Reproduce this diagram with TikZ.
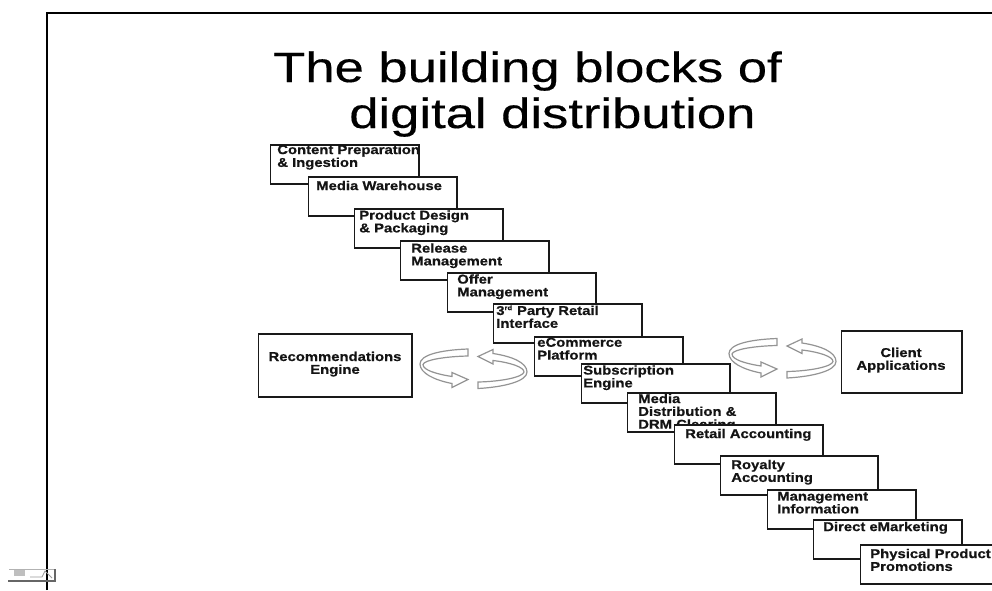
\documentclass[tikz,border=0pt]{standalone}
\usepackage{fontspec}
\setmainfont{Liberation Sans}
\newfontfamily\boxfont[FakeStretch=1.16,FakeBold=0.6]{Liberation Sans Bold}
\newfontfamily\titlefont[FakeStretch=1.24,FakeBold=0.3]{Liberation Sans}
\tikzset{
  blk/.style={draw=black!90,line width=1.35pt,fill=white,anchor=north west,inner sep=0pt,minimum width=111.4pt,minimum height=29.7pt,xshift=-0.3pt,yshift=0.2pt},
  txt/.style={anchor=north west,inner sep=0pt,align=left,text=black!92,yshift=1.1pt,font=\boxfont\fontsize{9.6}{9.6}\selectfont},
  ctxt/.style={txt,anchor=north,align=center,yshift=0.8pt},
  ttl/.style={anchor=base west,inner sep=0pt,text=black,font=\titlefont\fontsize{31.8}{34}\selectfont},
  cyc/.style={draw=black!42,line width=0.9pt,fill=white,line join=miter},
}
\newcommand{\cyclearrows}[2]{%
  \begin{scope}[shift={(#1,#2)}]
    \draw[cyc] (468,349) .. controls (440,350) and (420,355) .. (420,364)
      .. controls (420,373) and (434,380) .. (452,383.5) -- (452,387.5) -- (468,379.5) -- (452,372.5) -- (452,376.5)
      .. controls (436,374) and (423,370) .. (423,364.5)
      .. controls (424,360) and (445,356.5) .. (468,356) -- cycle;
    \draw[cyc] (478,388.5) .. controls (505,387) and (527,381) .. (527,372)
      .. controls (527,363) and (513,356.5) .. (493,353.5) -- (493,349.5) -- (478,356.5) -- (493,364) -- (493,360.5)
      .. controls (510,362.5) and (524,367) .. (524,372)
      .. controls (523,377) and (502,381.5) .. (478,382) -- cycle;
  \end{scope}}
\begin{document}
\begin{tikzpicture}[x=0.75pt,y=-0.75pt]
\path[use as bounding box,fill=white] (0,0) rectangle (992,590);
\clip (0,0) rectangle (992,590);
% frame
\draw[black,line width=1.5pt] (47,590) -- (47,13) -- (992,13);
% title
\node[ttl] (t1) at (273,82) {The building blocks of};
\node[ttl] (t2) at (349,128) {digital distribution};
% stair of boxes
\node[blk] (b1) at (270,144) {};
\node[txt] (l1) at (277,146) {Content Preparation\\\& Ingestion};
\node[blk] (b2) at (308,176) {};
\node[txt] (l2) at (316,182) {Media Warehouse};
\node[blk] (b3) at (354,208) {};
\node[txt] (l3) at (359,211.5) {Product Design\\\& Packaging};
\node[blk] (b4) at (400,240) {};
\node[txt] (l4) at (411,244.5) {Release\\Management};
\node[blk] (b5) at (447,272) {};
\node[txt] (l5) at (457,275.5) {Offer\\Management};
\node[blk] (b6) at (493,303) {};
\node[txt] (l6) at (496,306.5) {3\textsuperscript{\fontsize{5}{5}\selectfont rd} Party Retail\\Interface};
\node[blk] (b7) at (534,336) {};
\node[txt] (l7) at (537,339) {eCommerce\\Platform};
\node[blk] (b8) at (581,363) {};
\node[txt] (l8) at (583,366.5) {Subscription\\Engine};
\node[blk] (b9) at (627,392) {};
\node[txt] (l9) at (638,395) {Media\\Distribution \&\\DRM Clearing};
\node[blk] (b10) at (674,424) {};
\node[txt] (l10) at (685,430) {Retail Accounting};
\node[blk,minimum width=118.2pt] (b11) at (720,455) {};
\node[txt] (l11) at (731,461) {Royalty\\Accounting};
\node[blk] (b12) at (767,489) {};
\node[txt] (l12) at (777,493) {Management\\Information};
\node[blk] (b13) at (813,519) {};
\node[txt] (l13) at (823,523) {Direct eMarketing};
\node[blk] (b14) at (860,544) {};
\node[txt] (l14) at (870,550) {Physical Product\\Promotions};
% side boxes
\node[blk,minimum width=115.2pt,minimum height=47.7pt] (rec) at (258,333) {};
\node[ctxt] (lrec) at (335,354) {Recommendations\\Engine};
\node[blk,minimum width=90.4pt,minimum height=47pt] (cli) at (841,330) {};
\node[ctxt] (lcli) at (901,350) {Client\\Applications};
% cycle arrows
\cyclearrows{0}{0}
\cyclearrows{309}{-10.5}
% small icon bottom-left
\fill[black!25] (14,570) rectangle (25,576);
\draw[black!30,line width=0.5pt] (9,569) -- (54,569);
\draw[black!60,line width=0.9pt] (8,581) -- (55,581) -- (55,569);
\draw[black!40,line width=0.6pt] (30,577) -- (42,577) -- (45,571) -- (52,578);
\end{tikzpicture}
\end{document}
